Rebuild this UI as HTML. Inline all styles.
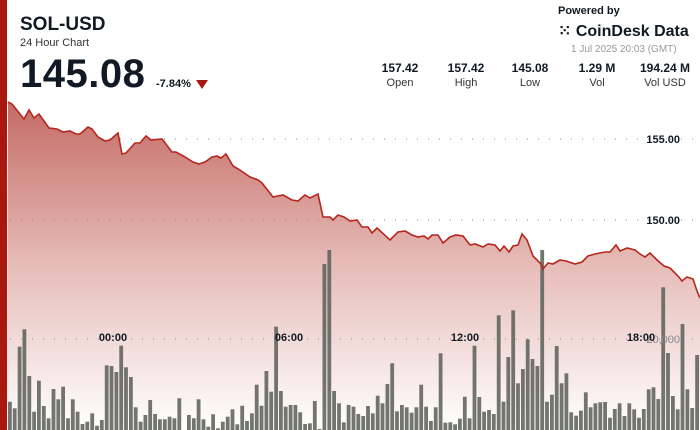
<!DOCTYPE html>
<html><head><meta charset="utf-8"><style>
body{margin:0;width:700px;height:430px;overflow:hidden;background:#fff;font-family:"Liberation Sans",sans-serif;}
.t{position:absolute;color:#111a24;}
</style></head><body>
<div style="position:absolute;left:0;top:0;width:7px;height:430px;background:#a8180f"></div>
<svg id="s" width="700" height="430" style="position:absolute;left:0;top:0">
<defs><linearGradient id="g" gradientUnits="userSpaceOnUse" x1="0" y1="100" x2="0" y2="430">
<stop offset="0" stop-color="#c46a64"/><stop offset="0.5" stop-color="#e6bcb8"/><stop offset="1" stop-color="#ffffff"/></linearGradient></defs>
<path id="area" fill="url(#g)"/>
<g stroke="#888" stroke-dasharray="1 10" stroke-width="1">
<line x1="10" y1="139" x2="700" y2="139"/><line x1="10" y1="220" x2="700" y2="220"/><line x1="10" y1="339" x2="700" y2="339"/></g>
<g id="bars"></g>
<polyline id="ln" fill="none" stroke="#b5271d" stroke-width="1.6"/>
<g font-size="11" font-weight="bold" fill="#111a24" font-family="Liberation Sans,sans-serif">
<text x="680" y="143" text-anchor="end">155.00</text>
<text x="680" y="224" text-anchor="end">150.00</text>
<text x="680" y="343" text-anchor="end" fill="#888" font-weight="normal">20,000</text>
<text x="113" y="341" text-anchor="middle">00:00</text>
<text x="289" y="341" text-anchor="middle">06:00</text>
<text x="465" y="341" text-anchor="middle">12:00</text>
<text x="641" y="341" text-anchor="middle">18:00</text>
</g>
</svg>
<div class="t" style="left:20px;top:14px;font-size:19px;font-weight:bold">SOL-USD</div>
<div class="t" style="left:20px;top:37px;font-size:11px;color:#333">24 Hour Chart</div>
<div class="t" style="left:20px;top:52px;font-size:40px;font-weight:bold;letter-spacing:0.5px">145.08</div>
<div class="t" style="left:156px;top:78px;font-size:11px;font-weight:bold">-7.84%</div>
<div style="position:absolute;left:196px;top:80px;width:0;height:0;border-left:6px solid transparent;border-right:6px solid transparent;border-top:9px solid #a8180f"></div>
<div class="t" style="left:558px;top:5px;font-size:11px;font-weight:bold">Powered by</div>
<div class="t" style="left:558px;top:21px;font-size:16px;font-weight:bold">⁙ CoinDesk Data</div>
<div class="t" style="left:571px;top:44px;font-size:10px;color:#999">1 Jul 2025 20:03 (GMT)</div>
<div class="t" style="left:365px;top:61px;width:330px;font-size:12px">
<div style="position:absolute;left:0;width:70px;text-align:center;font-weight:bold">157.42<div style="font-weight:normal;font-size:11px;color:#333;margin-top:2px">Open</div></div>
<div style="position:absolute;left:66px;width:70px;text-align:center;font-weight:bold">157.42<div style="font-weight:normal;font-size:11px;color:#333;margin-top:2px">High</div></div>
<div style="position:absolute;left:130px;width:70px;text-align:center;font-weight:bold">145.08<div style="font-weight:normal;font-size:11px;color:#333;margin-top:2px">Low</div></div>
<div style="position:absolute;left:197px;width:70px;text-align:center;font-weight:bold">1.29 M<div style="font-weight:normal;font-size:11px;color:#333;margin-top:2px">Vol</div></div>
<div style="position:absolute;left:265px;width:70px;text-align:center;font-weight:bold">194.24 M<div style="font-weight:normal;font-size:11px;color:#333;margin-top:2px">Vol USD</div></div>
</div>
<script>
var p=[[8,102],[12,104],[24,119],[29,110],[34,118],[39,114],[44,121],[49,128],[57,129],[63,132],[70,131],[76,134],[80,134],[88,127],[92,129],[98,137],[105,141],[110,140],[118,133],[122,154],[126,153],[135,143],[140,143],[146,136],[151,140],[162,139],[172,152],[176,152],[185,157],[193,162],[199,164],[205,162],[212,157],[217,156],[221,158],[226,154],[233,166],[240,170],[250,177],[258,180],[262,183],[273,197],[283,195],[292,200],[298,201],[305,195],[310,198],[318,194],[323,217],[330,217],[333,220],[338,215],[344,217],[350,221],[357,220],[362,227],[368,227],[372,233],[377,228],[390,240],[398,232],[405,231],[412,235],[418,237],[424,236],[428,239],[432,235],[438,235],[443,243],[450,237],[456,235],[463,236],[470,245],[475,244],[483,247],[488,244],[495,245],[500,251],[504,246],[509,252],[513,246],[518,245],[522,234],[527,240],[533,256],[541,264],[543,269],[548,263],[553,264],[560,260],[566,261],[575,264],[582,262],[588,256],[595,254],[605,252],[610,252],[616,245],[620,251],[627,248],[635,250],[640,254],[645,257],[650,253],[657,260],[664,266],[670,268],[678,276],[682,281],[687,277],[693,279],[697,291],[700,298]];
var s=p.map(function(a){return a.join(',')}).join(' ');
document.getElementById('ln').setAttribute('points',s);
document.getElementById('area').setAttribute('d','M'+s.replace(/ /g,' L')+' L700,430 L7,430 Z');
var z=[935,955,770,718,858,965,872,948,985,897,928,890,985,928,965,1002,995,970,1007,990,826,828,846,767,832,861,952,995,975,930,972,988,988,980,985,925,1025,975,985,928,988,1010,973,1015,995,980,958,1003,947,993,970,884,947,843,905,710,903,950,945,945,967,1002,1000,933,1017,522,480,903,940,997,945,
950,972,978,948,970,917,940,882,820,964,945,952,968,952,884,950,993,952,790,998,997,1003,986,920,985,767,921,965,960,972,676,935,801,661,880,837,748,807,828,480,935,914,768,880,850,967,977,962,907,952,940,937,936,983,957,940,978,940,958,983,957,898,892,927,592,789,918,958,702,898,954,795];
var step=692/z.length,h='';
for(var i=0;i<z.length;i++){var y=90+z[i]/3;if(y>429)continue;h+='<rect x="'+(8+i*step).toFixed(1)+'" y="'+y.toFixed(1)+'" width="'+(step-1).toFixed(1)+'" height="'+(430-y).toFixed(1)+'" fill="#5f625c" fill-opacity="0.88"/>';}
document.getElementById('bars').innerHTML=h;
</script>
</body></html>
